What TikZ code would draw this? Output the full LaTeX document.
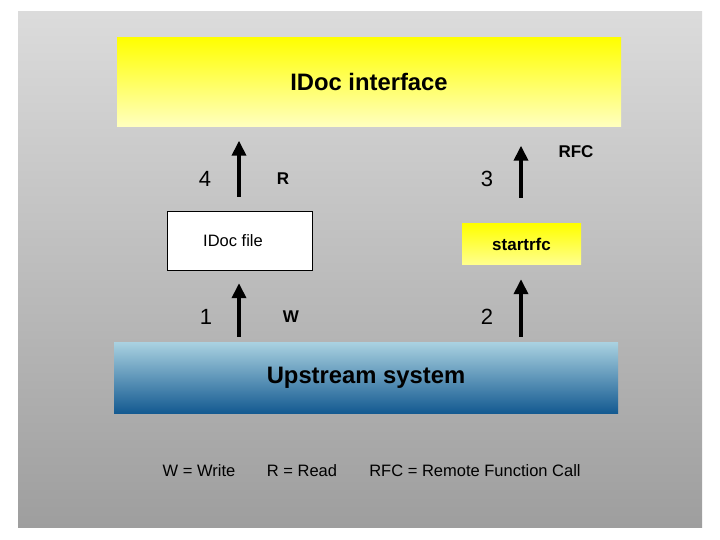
\documentclass[tikz,border=0pt]{standalone}
\usepackage{fontspec}
\setmainfont{Liberation Sans}
\usetikzlibrary{arrows.meta}
\begin{document}
\begin{tikzpicture}[x=1pt,y=-1pt,
  lbl/.style={font=\fontsize{22}{22}\selectfont},
  blbl/.style={font=\bfseries\fontsize{17}{17}\selectfont},
  leg/.style={font=\fontsize{16.5}{16.5}\selectfont},
  arr/.style={line width=3.6pt,-{Triangle[length=15pt,width=14pt]}}]
\useasboundingbox (0,0) rectangle (720,540);
\fill[white] (0,0) rectangle (720,540);
\shade[top color=black!14,bottom color=black!38] (18,12) rectangle (702,527);
\node[minimum width=504pt,minimum height=89pt,inner sep=0pt,top color=yellow,bottom color=yellow!25,font=\bfseries\fontsize{23.8}{24}\selectfont] (idoc) at (369,82) {IDoc interface};
\node[minimum width=504pt,minimum height=71pt,inner sep=0pt,top color={rgb,255:red,170;green,210;blue,225},bottom color={rgb,255:red,20;green,90;blue,145},font=\bfseries\fontsize{23.8}{24}\selectfont] (up) at (366,377.5) {Upstream system};
\node[draw=black,fill=white,minimum width=145pt,minimum height=59pt,inner sep=0pt] (file) at (239.5,240.5) {};
\node[font=\fontsize{16.5}{16.5}\selectfont] at (233,241) {IDoc file};
\node[minimum width=119pt,minimum height=40pt,inner sep=0pt,top color=yellow,bottom color=yellow!45,font=\bfseries\fontsize{17}{17}\selectfont] (rfc) at (521.5,244) {startrfc};
\draw[arr,shorten <=5pt,shorten >=13pt] (up.north -| 239,0) -- (file.south -| 239,0);
\draw[arr,shorten <=14pt,shorten >=14pt] (file.north -| 239,0) -- (idoc.south -| 239,0);
\draw[arr,shorten <=5pt,shorten >=15pt] (up.north -| 521,0) -- (rfc.south -| 521,0);
\draw[arr,shorten <=26pt,shorten >=19pt] (rfc.north -| 521,0) -- (idoc.south -| 521,0);
\node[lbl] (n4) at (205,179) {4};
\node[blbl] (r) at (283,179) {R};
\node[lbl] (n3) at (487,179) {3};
\node[blbl] (rf) at (576,152) {RFC};
\node[lbl] (n1) at (206,317) {1};
\node[blbl] (w) at (291,317) {W};
\node[lbl] (n2) at (487,317) {2};
\node[leg] (l1) at (199,471) {W = Write};
\node[leg] (l2) at (302,471) {R = Read};
\node[leg] (l3) at (475,471) {RFC = Remote Function Call};
\end{tikzpicture}
\end{document}
